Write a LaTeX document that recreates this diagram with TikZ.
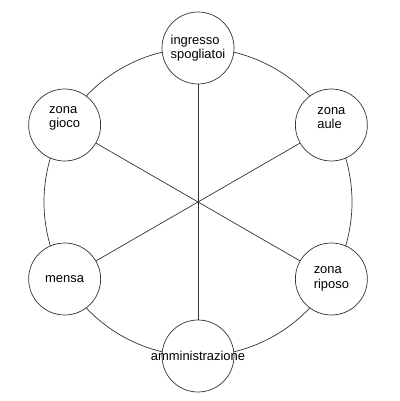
\documentclass[tikz,border=0pt]{standalone}
\usepackage{fontspec}
\setmainfont{Liberation Sans}
\usetikzlibrary{positioning, calc}

\begin{document}
\begin{tikzpicture}[
  area/.style={circle, draw=black!80, line width=0.5pt, fill=white,
               minimum size=1.8cm, inner sep=0pt},
  txt/.style={align=left, inner sep=0pt, font=\fontsize{9.2}{10.4}\selectfont},
  link/.style={draw=black!80, line width=0.5pt},
]
\useasboundingbox (0,0) rectangle (10,10.025);

%% ---- ring ----
\coordinate (c) at (4.95,4.975);
\draw[link] (c) circle (3.85);

%% ---- areas ----
\node[area, label={[txt]center:ingresso\\spogliatoi}] (ingresso) at ($(c)+(90:3.85)$) {};
\node[area, label={[txt, yshift=0.17cm]center:zona\\aule}] (aule) at ($(c)+(30:3.85)$) {};
\node[area, label={[txt]center:zona\\riposo}] (riposo) at ($(c)+(-30:3.85)$) {};
\node[area, label={[txt]center:amministrazione}] (amm) at ($(c)+(-90:3.85)$) {};
\node[area, label={[txt]center:mensa}] (mensa) at ($(c)+(210:3.85)$) {};
\node[area, label={[txt, yshift=0.17cm]center:zona\\gioco}] (gioco) at ($(c)+(150:3.85)$) {};

%% ---- spokes ----
\draw[link] (ingresso) -- (amm);
\draw[link] (gioco) -- (riposo);
\draw[link] (aule) -- (mensa);

\end{tikzpicture}
\end{document}
